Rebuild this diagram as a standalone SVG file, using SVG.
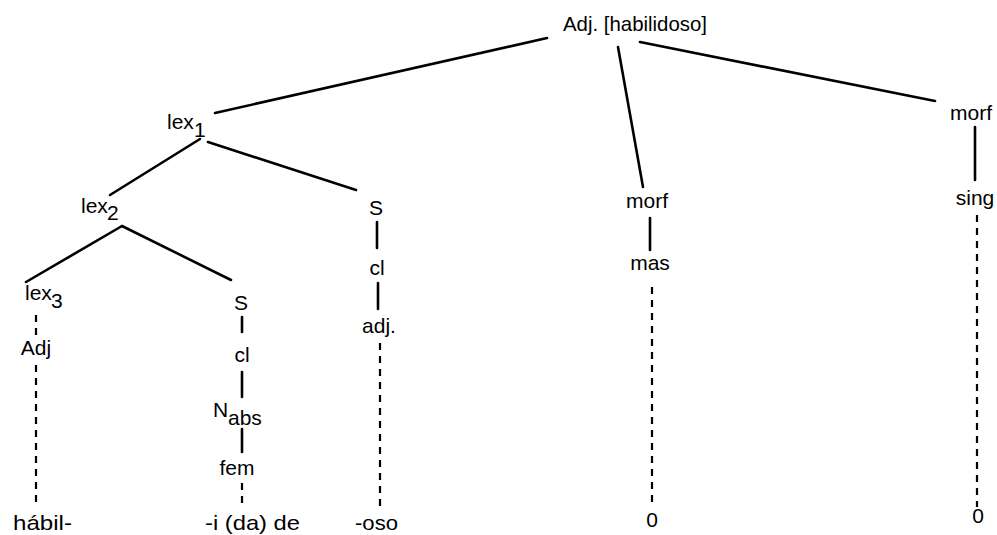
<svg xmlns="http://www.w3.org/2000/svg" width="997" height="535" viewBox="0 0 997 535">
<style>
text{font-family:"Liberation Sans",Arial,sans-serif;font-size:21px;fill:#000}
.m{text-anchor:middle}
.e{stroke:#000;stroke-width:2.6;fill:none;stroke-linecap:round}
.d{stroke:#000;stroke-width:2.2;fill:none;stroke-dasharray:7 6}
</style>
<rect width="997" height="535" fill="#fff"/>
<g id="connectors">
<line class="e" x1="547" y1="38" x2="215" y2="113"/>
<line class="e" x1="618" y1="47" x2="643" y2="187"/>
<line class="e" x1="640" y1="42" x2="935" y2="101"/>
<line class="e" x1="200" y1="139" x2="110" y2="195"/>
<line class="e" x1="208" y1="142" x2="356" y2="190"/>
<line class="e" x1="122" y1="226" x2="26" y2="282"/>
<line class="e" x1="122" y1="226" x2="231" y2="280"/>
<line class="d" x1="36" y1="315" x2="36" y2="336"/>
<line class="d" x1="36" y1="365" x2="36" y2="506"/>
<line class="e" x1="242" y1="317" x2="242" y2="332"/>
<line class="e" x1="242" y1="372" x2="242" y2="397"/>
<line class="e" x1="242" y1="429" x2="242" y2="452"/>
<line class="d" x1="242" y1="483" x2="242" y2="507"/>
<line class="e" x1="377" y1="222" x2="377" y2="248"/>
<line class="e" x1="378" y1="283" x2="378" y2="309"/>
<line class="d" x1="380" y1="343" x2="380" y2="506"/>
<line class="e" x1="650" y1="218" x2="650" y2="250"/>
<line class="d" x1="652" y1="287" x2="652" y2="507"/>
<line class="e" x1="975" y1="127" x2="975" y2="180"/>
<line class="d" x1="977" y1="215" x2="977" y2="507"/>
</g>
<g id="root"><text x="563" y="31" textLength="144" lengthAdjust="spacingAndGlyphs">Adj. [habilidoso]</text></g>
<g id="lex1"><text x="167" y="129">lex</text><text x="194" y="137">1</text></g>
<g id="lex2"><text x="81" y="213">lex</text><text x="107" y="220">2</text></g>
<g id="lex3"><text x="25" y="300">lex</text><text x="51" y="308">3</text></g>
<g id="adj1"><text class="m" x="36" y="355">Adj</text></g>
<g id="habil"><text x="13" y="530" textLength="59" lengthAdjust="spacingAndGlyphs">hábil-</text></g>
<g id="s2"><text class="m" x="241" y="310">S</text></g>
<g id="cl2"><text class="m" x="242" y="362">cl</text></g>
<g id="nabs"><text x="213" y="417">N</text><text x="228" y="425">abs</text></g>
<g id="fem"><text class="m" x="237" y="475">fem</text></g>
<g id="ida"><text x="205" y="530" textLength="95" lengthAdjust="spacingAndGlyphs">-i (da) de</text></g>
<g id="s3"><text class="m" x="376" y="215">S</text></g>
<g id="cl3"><text class="m" x="377" y="275">cl</text></g>
<g id="adj3"><text class="m" x="379" y="333">adj.</text></g>
<g id="oso"><text x="355" y="530" textLength="43" lengthAdjust="spacingAndGlyphs">-oso</text></g>
<g id="morf1"><text class="m" x="647" y="208">morf</text></g>
<g id="mas"><text class="m" x="650" y="270">mas</text></g>
<g id="zero1"><text class="m" x="652" y="527">0</text></g>
<g id="morf2"><text class="m" x="971" y="120">morf</text></g>
<g id="sing"><text class="m" x="975" y="205">sing</text></g>
<g id="zero2"><text class="m" x="978" y="523">0</text></g>
</svg>
